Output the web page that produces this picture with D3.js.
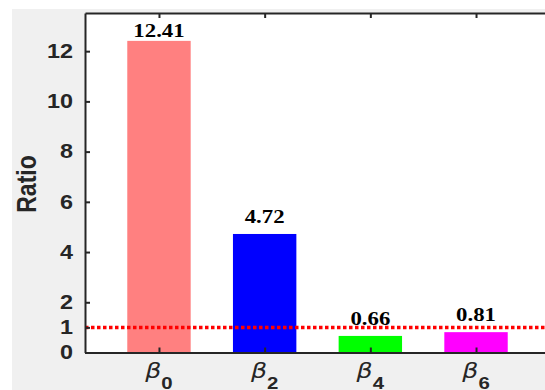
<!DOCTYPE html>
<html>
<head>
<meta charset="utf-8">
<script src="https://cdn.jsdelivr.net/npm/d3@7"></script>
<style>
  body { margin: 0; background: #fff; }
  svg { display: block; }
</style>
</head>
<body>
<div id="chart"></div>
<script>
// chart data
var categories = ["0", "2", "4", "6"];        // subscripts of beta
var ratios = [12.41, 4.72, 0.66, 0.81];
var barColors = ["#ff8080", "#0000ff", "#00ff00", "#ff00ff"];
var yTicks = [0, 1, 2, 4, 6, 8, 10, 12];
var refLine = 1;

var width = 545, height = 390;
var stretch = 1.2; // glyphs in the picture are a bit wider than tall

var svg = d3.select("#chart").append("svg")
    .attr("width", width)
    .attr("height", height);

// figure background
svg.append("rect")
    .attr("x", 12).attr("y", 9)
    .attr("width", width - 12).attr("height", height - 9)
    .attr("fill", "#f0f0f0");

var plot = { left: 85, right: 550, top: 13, bottom: 352.5 };

var x = d3.scaleLinear().domain([0.3, 4.7]).range([plot.left, plot.right]);
var y = d3.scaleLinear().domain([0, 13.52]).range([plot.bottom, plot.top]);

// axes area
svg.append("rect")
    .attr("x", plot.left).attr("y", plot.top)
    .attr("width", plot.right - plot.left).attr("height", plot.bottom - plot.top)
    .attr("fill", "#fff");

var barW = x(1.3) - x(0.7);

// bars
svg.selectAll(".bar")
    .data(ratios)
    .join("rect")
    .attr("class", "bar")
    .attr("x", function (d, i) { return x(i + 1) - barW / 2; })
    .attr("y", function (d) { return y(d); })
    .attr("width", barW)
    .attr("height", function (d) { return y(0) - y(d); })
    .attr("fill", function (d, i) { return barColors[i]; });

// value labels above the bars (kept inside the axes)
svg.selectAll(".val")
    .data(ratios)
    .join("text")
    .attr("class", "val")
    .attr("transform", function (d, i) {
        var ly = Math.max(y(d + 0.45), plot.top + 24);
        return "translate(" + x(i + 1) + "," + ly + ") scale(" + stretch + ",1)";
    })
    .attr("text-anchor", "middle")
    .style("font-family", "'Liberation Serif', 'Times New Roman', serif")
    .style("font-weight", "bold")
    .style("font-size", "19px")
    .attr("fill", "#000")
    .text(function (d) { return d.toFixed(2); });

// reference line at ratio = 1
svg.append("line")
    .attr("x1", plot.left).attr("x2", plot.right)
    .attr("y1", y(refLine)).attr("y2", y(refLine))
    .attr("stroke", "#ff0000")
    .attr("stroke-width", 3.5)
    .attr("stroke-dasharray", "3.5,2.5");

var axisColor = "#262626";

// left axis with inward ticks
var yAxis = svg.append("g")
    .attr("transform", "translate(" + plot.left + ",0)")
    .call(d3.axisLeft(y).tickValues(yTicks).tickSizeInner(-5).tickSizeOuter(0).tickPadding(10));
yAxis.selectAll("text")
    .attr("transform", "scale(" + stretch + ",1)")
    .style("font-family", "'Liberation Sans', Arial, sans-serif")
    .style("font-weight", "bold")
    .style("font-size", "19.5px")
    .attr("fill", axisColor);

// right axis (ticks only, line sits just off the canvas)
var yAxisR = svg.append("g")
    .attr("transform", "translate(" + plot.right + ",0)")
    .call(d3.axisRight(y).tickValues(yTicks).tickSizeInner(-5).tickSizeOuter(0).tickFormat(""));

// bottom axis with inward ticks, labels drawn separately
var xAxis = svg.append("g")
    .attr("transform", "translate(0," + plot.bottom + ")")
    .call(d3.axisBottom(x).tickValues([1, 2, 3, 4]).tickSizeInner(-5).tickSizeOuter(0).tickFormat(""));

var xAxisT = svg.append("g")
    .attr("transform", "translate(0," + plot.top + ")")
    .call(d3.axisTop(x).tickValues([1, 2, 3, 4]).tickSizeInner(-5).tickSizeOuter(0).tickFormat(""));

[yAxis, yAxisR, xAxis, xAxisT].forEach(function (g) {
    g.select(".domain").attr("stroke", axisColor).attr("stroke-width", 2);
    g.selectAll(".tick line").attr("stroke", axisColor).attr("stroke-width", 2);
});

// beta tick labels with subscripts
var xl = svg.selectAll(".xlab")
    .data(categories)
    .join("text")
    .attr("class", "xlab")
    .attr("transform", function (d, i) {
        return "translate(" + x(i + 1) + ",378) scale(" + stretch + ",1)";
    })
    .attr("text-anchor", "middle")
    .attr("fill", axisColor);
xl.append("tspan")
    .style("font-family", "'DejaVu Sans', sans-serif")
    .style("font-style", "italic")
    .style("font-size", "21px")
    .text("\u03b2");
xl.append("tspan")
    .attr("dy", 11)
    .style("font-family", "'Liberation Sans', Arial, sans-serif")
    .style("font-weight", "bold")
    .style("font-size", "17px")
    .text(function (d) { return d; });

// y axis title
svg.append("text")
    .attr("transform", "translate(36,184) rotate(-90) scale(1," + stretch + ")")
    .attr("text-anchor", "middle")
    .style("font-family", "'Liberation Sans', Arial, sans-serif")
    .style("font-weight", "bold")
    .style("font-size", "23px")
    .attr("fill", axisColor)
    .text("Ratio");
</script>
</body>
</html>
